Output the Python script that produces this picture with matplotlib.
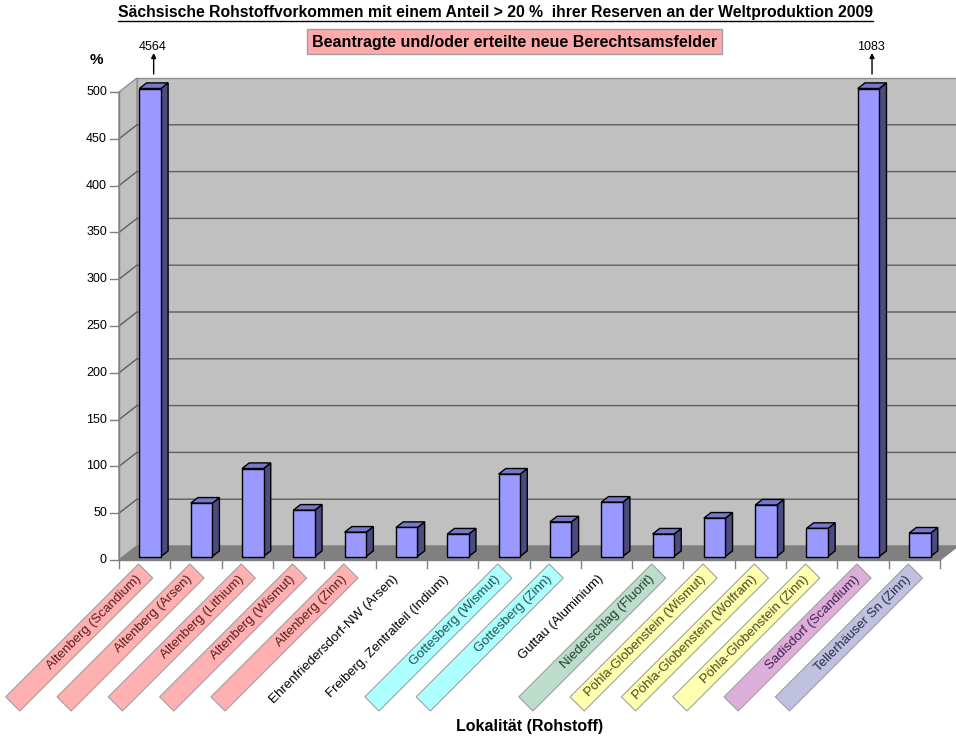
import numpy as np
import matplotlib
matplotlib.use("Agg")
import matplotlib.pyplot as plt
from matplotlib.patches import Polygon, Rectangle
from matplotlib.lines import Line2D

plt.rcParams['font.family'] = ['Liberation Sans', 'DejaVu Sans']

# ---------------------------------------------------------------- data
locations = [
    "Altenberg (Scandium)", "Altenberg (Arsen)", "Altenberg (Lithium)",
    "Altenberg (Wismut)", "Altenberg (Zinn)", "Ehrenfriedersdorf-NW (Arsen)",
    "Freiberg, Zentralteil (Indium)", "Gottesberg (Wismut)", "Gottesberg (Zinn)",
    "Guttau (Aluminium)", "Niederschlag (Fluorit)", "Pöhla-Globenstein (Wismut)",
    "Pöhla-Globenstein (Wolfram)", "Pöhla-Globenstein (Zinn)",
    "Sadisdorf (Scandium)", "Tellerhäuser Sn (Zinn)",
]
shares = [4564, 57, 94, 49.5, 26, 31, 24, 88, 37, 58, 24, 41, 55, 30, 1083, 25]
label_groups = ["Altenberg"] * 5 + [None, None, "Gottesberg", "Gottesberg", None,
                                    "Niederschlag", "Pöhla", "Pöhla", "Pöhla",
                                    "Sadisdorf", "Tellerhäuser"]
y_ticks = list(range(0, 501, 50))
y_max = 500

title = "Sächsische Rohstoffvorkommen mit einem Anteil > 20 %  ihrer Reserven an der Weltproduktion 2009"
subtitle = "Beantragte und/oder erteilte neue Berechtsamsfelder"
x_title = "Lokalität (Rohstoff)"

# fill / text colours of the label boxes per area
group_colors = {
    "Altenberg": ("#FFB0B0", "#5A1E1E"),
    "Gottesberg": ("#AEFFFF", "#1C5656"),
    "Niederschlag": ("#BCDCCC", "#23402F"),
    "Pöhla": ("#FFFFB0", "#4A4A1C"),
    "Sadisdorf": ("#DCAEDC", "#4A1E4A"),
    "Tellerhäuser": ("#C0C0E0", "#2A2A4A"),
}

# ---------------------------------------------------------------- figure
W, H = 956, 739
fig = plt.figure(figsize=(W / 100, H / 100), dpi=100)
ax_l, ax_r, ax_b, ax_t = 119, 940, 560, 92          # pixel frame of the front plane
ax = fig.add_axes([ax_l / W, 1 - ax_b / H, (ax_r - ax_l) / W, (ax_b - ax_t) / H])
n = len(locations)
ax.set_xlim(-0.5, n - 0.5)
ax.set_ylim(0, y_max)
ax.axis("off")

ppx = (ax_r - ax_l) / n          # pixels per category
ppy = (ax_b - ax_t) / y_max      # pixels per percent


def px(dx, dy):
    """pixel offset -> data offset (dy positive = up)"""
    return dx / ppx, dy / ppy


DEPTH = (18, 14)                 # 3-D depth vector in pixels
ddx, ddy = px(*DEPTH)
x0, x1 = -0.5, n - 0.5

wall_c, floor_c, grid_c, axis_c = "#C0C0C0", "#808080", "#5E5E5E", "#808080"

# back wall, side wall, floor
ax.add_patch(Polygon([(x0 + ddx, ddy), (x1 + ddx, ddy), (x1 + ddx, y_max + ddy),
                      (x0 + ddx, y_max + ddy)], closed=True, fc=wall_c, ec="#909090",
                     lw=1, clip_on=False, zorder=1))
ax.add_patch(Polygon([(x0, 0), (x0, y_max), (x0 + ddx, y_max + ddy), (x0 + ddx, ddy)],
                     closed=True, fc=wall_c, ec="#909090", lw=1, clip_on=False, zorder=1))
ax.add_patch(Polygon([(x0, 0), (x1, 0), (x1 + ddx, ddy), (x0 + ddx, ddy)],
                     closed=True, fc=floor_c, ec=floor_c, lw=1, clip_on=False, zorder=2))

# grid lines on side wall and back wall
for v in y_ticks[1:-1]:
    ax.add_line(Line2D([x0, x0 + ddx, x1 + ddx], [v, v + ddy, v + ddy], color=grid_c,
                       lw=1, clip_on=False, zorder=1.5))

# value axis
ax.add_line(Line2D([x0, x0], [0, y_max], color=axis_c, lw=1, clip_on=False, zorder=3))
tdx, _ = px(9, 0)
ldx, _ = px(12, 0)
for v in y_ticks:
    ax.add_line(Line2D([x0 - tdx, x0], [v, v], color=axis_c, lw=1, clip_on=False, zorder=3))
    ax.text(x0 - ldx, v, f"{v}", ha="right", va="center", fontsize=9, clip_on=False)

# category axis
ax.add_line(Line2D([x0, x1], [0, 0], color=axis_c, lw=1, clip_on=False, zorder=3))
_, tdy = px(0, 8)
for k in range(n + 1):
    ax.add_line(Line2D([k - 0.5, k - 0.5], [0, -tdy], color=axis_c, lw=1,
                       clip_on=False, zorder=3))

# 3-D columns
f0, f1 = 0.25, 0.65
bw, _ = px(21.5, 0)
shift, _ = px(1, 0)
front_c, top_c, side_c = "#9999FF", "#7777CC", "#4B4B80"
for i, v in enumerate(shares):
    h = min(v, y_max)
    xa = i - bw / 2 + shift
    ox0, oy0 = f0 * ddx, f0 * ddy
    ox1, oy1 = f1 * ddx, f1 * ddy
    z = 5 + i * 0.01
    side = [(xa + bw + ox0, oy0), (xa + bw + ox1, oy1), (xa + bw + ox1, h + oy1),
            (xa + bw + ox0, h + oy0)]
    top = [(xa + ox0, h + oy0), (xa + bw + ox0, h + oy0), (xa + bw + ox1, h + oy1),
           (xa + ox1, h + oy1)]
    ax.add_patch(Polygon(side, closed=True, fc=side_c, ec="black", lw=1,
                         clip_on=False, zorder=z))
    ax.add_patch(Polygon(top, closed=True, fc=top_c, ec="black", lw=1,
                         clip_on=False, zorder=z))
    ax.add_patch(Rectangle((xa + ox0, oy0), bw, h, fc=front_c, ec="black", lw=1,
                           clip_on=False, zorder=z + 0.001))
    if v > y_max:
        ax_off, _ = px(9, 0)
        _, a0 = px(0, 18)
        _, a1 = px(0, 39)
        _, t0 = px(0, 42)
        ax.annotate("", xy=(i + ax_off, y_max + a1), xytext=(i + ax_off, y_max + a0),
                    arrowprops=dict(arrowstyle="-|>", color="black", lw=1,
                                    mutation_scale=7, shrinkA=0, shrinkB=0),
                    annotation_clip=False, zorder=6)
        ax.text(i + ax_off - px(1.5, 0)[0], y_max + t0, f"{v}", ha="center",
                va="baseline", fontsize=9, clip_on=False)

# rotated category labels with coloured boxes
s2 = np.sqrt(0.5)
d = np.array([-s2, -s2])        # along the label, downwards to the left
nrm = np.array([s2, -s2])       # across the label
box_len, box_w = 188, 20
for i, (name, grp) in enumerate(zip(locations, label_groups)):
    top_end = np.array([1.0, -11.0])
    if grp is not None:
        fc, tc = group_colors[grp]
        b_end = top_end + box_len * d
        corners = [top_end + box_w / 2 * nrm, top_end - box_w / 2 * nrm,
                   b_end - box_w / 2 * nrm, b_end + box_w / 2 * nrm]
        pts = [(i + px(*c)[0], px(*c)[1]) for c in corners]
        ax.add_patch(Polygon(pts, closed=True, fc=fc, ec="#A0A0A0", lw=0.8,
                             clip_on=False, zorder=4))
    else:
        tc = "black"
    anchor = top_end + 9 * d
    axx, axy = px(*anchor)
    ax.text(i + axx, axy, name, rotation=45, rotation_mode="anchor", ha="right",
            va="center", fontsize=9.5, color=tc, clip_on=False, zorder=4.5)

# ---------------------------------------------------------------- titles
renderer = fig.canvas.get_renderer()


def fit_width(txt, target_px):
    w = txt.get_window_extent(renderer).width
    txt.set_fontsize(txt.get_fontsize() * target_px / w)


t = fig.text(495.5 / W, 1 - 17 / H, title, ha="center", va="baseline",
             fontsize=10.5, fontweight="bold")
fit_width(t, 757)
bb = t.get_window_extent(renderer)
fig.add_artist(Line2D([bb.x0 / W, bb.x1 / W], [1 - 20.5 / H, 1 - 20.5 / H],
                      color="black", lw=1, transform=fig.transFigure))

fig.add_artist(Rectangle((307 / W, 1 - 54 / H), 415 / W, 25 / H, fc="#FFAAAA",
                         ec="#A0A0A0", lw=1, transform=fig.transFigure))
st = fig.text(514.5 / W, 1 - 41.5 / H, subtitle, ha="center", va="center_baseline",
              fontsize=11, fontweight="bold")
fit_width(st, 403)

fig.text(96 / W, 1 - 60 / H, "%", ha="center", va="center", fontsize=11,
         fontweight="bold")
fig.text(530 / W, 1 - 726 / H, x_title, ha="center", va="center", fontsize=11.5,
         fontweight="bold")

fig.savefig("out.png", dpi=100, facecolor="white")
